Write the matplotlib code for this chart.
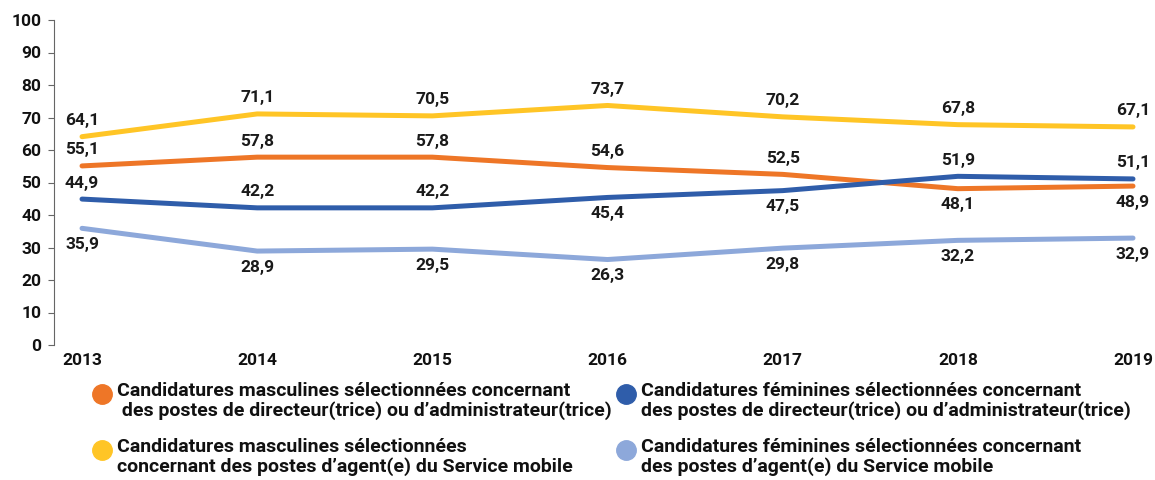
import matplotlib.pyplot as plt
from matplotlib.lines import Line2D

years = [2013, 2014, 2015, 2016, 2017, 2018, 2019]
hommes_dir = [55.1, 57.8, 57.8, 54.6, 52.5, 48.1, 48.9]
hommes_mob = [64.1, 71.1, 70.5, 73.7, 70.2, 67.8, 67.1]
femmes_dir = [44.9, 42.2, 42.2, 45.4, 47.5, 51.9, 51.1]
femmes_mob = [35.9, 28.9, 29.5, 26.3, 29.8, 32.2, 32.9]

# label placement: 1 = above the line, -1 = below
pos_hommes_dir = [1, 1, 1, 1, 1, -1, -1]
pos_hommes_mob = [1, 1, 1, 1, 1, 1, 1]
pos_femmes_dir = [1, 1, 1, -1, -1, 1, 1]
pos_femmes_mob = [-1, -1, -1, -1, -1, -1, -1]

labels = [
    "Candidatures masculines sélectionnées concernant\n des postes de directeur(trice) ou d’administrateur(trice)",
    "Candidatures masculines sélectionnées\nconcernant des postes d’agent(e) du Service mobile",
    "Candidatures féminines sélectionnées concernant\ndes postes de directeur(trice) ou d’administrateur(trice)",
    "Candidatures féminines sélectionnées concernant\ndes postes d’agent(e) du Service mobile",
]
colors = ["#EE7627", "#FFC526", "#2F5DAA", "#8DA8DA"]

plt.rcParams['font.family'] = ['Roboto', 'DejaVu Sans']

fig = plt.figure(figsize=(11.55, 4.8), dpi=100)
ax = fig.add_axes([54 / 1155, 1 - 345 / 480, (1140 - 54) / 1155, 325 / 480])

series = [(hommes_dir, pos_hommes_dir), (hommes_mob, pos_hommes_mob),
          (femmes_dir, pos_femmes_dir), (femmes_mob, pos_femmes_mob)]
for (vals, pos), c in zip(series, colors):
    ax.plot(years, vals, color=c, lw=3.6, solid_capstyle='round', zorder=3)
    for x, v, p in zip(years, vals, pos):
        ax.annotate(str(v).replace('.', ','), (x, v), xytext=(0, 16 * p),
                    textcoords='offset pixels',
                    ha='center', va='center', fontsize=12.5, fontweight='semibold',
                    color='#1a1a1a')

ax.set_xlim(2013 - 28 / 175, 2019 + 7 / 175)
ax.set_ylim(0, 100)
ax.set_yticks(range(0, 101, 10))
ax.set_xticks(years)
for s in ['top', 'right', 'bottom']:
    ax.spines[s].set_visible(False)
ax.spines['left'].set_color('#666666')
ax.tick_params(axis='y', length=4, color='#666666', labelsize=12.5, pad=5)
ax.tick_params(axis='x', length=0, labelsize=12.5, pad=6)
for t in ax.get_xticklabels() + ax.get_yticklabels():
    t.set_fontweight('bold')
    t.set_color('#111111')

# legend drawn by hand so the dot sits on the first text line
spots = [(102, 394), (102, 450), (626, 394), (626, 450)]
for (mx, my), lab, c in zip(spots, labels, colors):
    fig.add_artist(Line2D([mx / 1155], [1 - my / 480], marker='o', markersize=14,
                          color=c, transform=fig.transFigure, linestyle='none'))
    fig.text((mx + 15) / 1155, 1 - (my - 12) / 480, lab, ha='left', va='top',
             fontsize=14, fontweight='bold', color='#111111', linespacing=1.1)

fig.savefig('out.png', dpi=100)
